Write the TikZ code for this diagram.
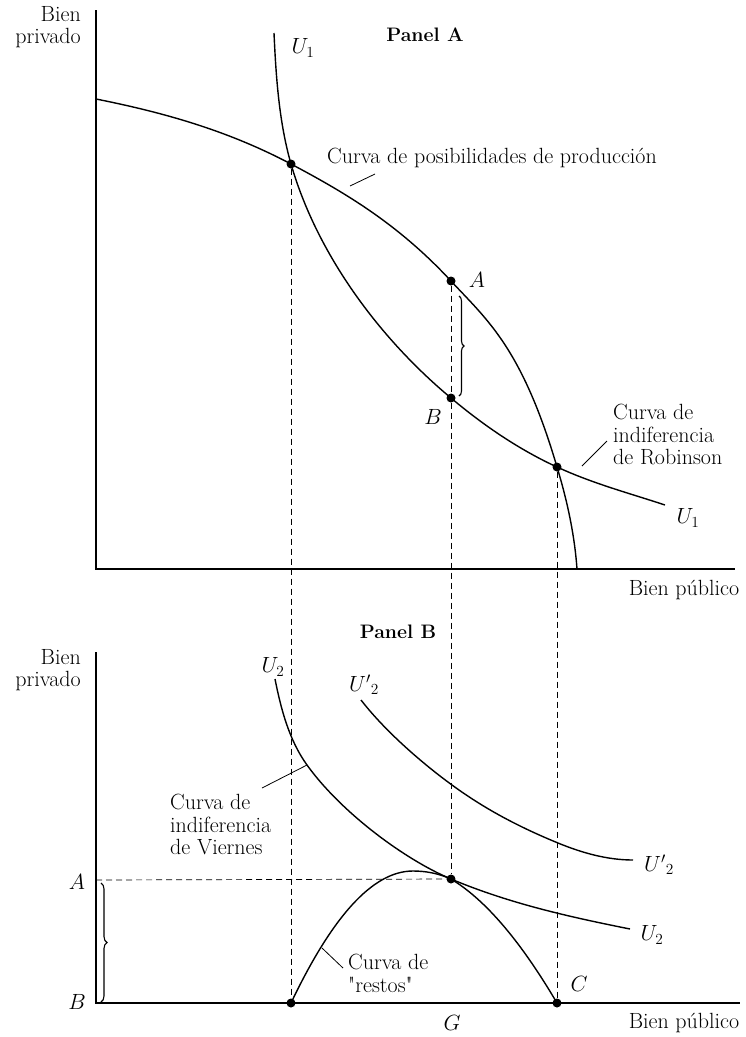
\RequirePackage{fix-cm}
\documentclass[tikz,border=0pt]{standalone}
\usepackage{fontspec}
\setmainfont{Latin Modern Roman}
\usetikzlibrary{decorations.pathreplacing}
\newcommand{\straightquote}{\XeTeXglyph\XeTeXcharglyph"22\relax}
\begin{document}
\begin{tikzpicture}[x=1pt,y=-1pt,
  every node/.style={font=\fontsize{22}{22.5}\selectfont, inner sep=0pt},
  paneltitle/.style={font=\fontsize{19.5}{22}\selectfont\bfseries},
  axisline/.style={line width=1.5pt},
  curveline/.style={line width=1.4pt},
  dashline/.style={line width=0.7pt, dash pattern=on 6pt off 4pt},
  leader/.style={line width=0.8pt},
  dot/.style={circle, fill=black, inner sep=0pt, minimum size=9pt},
  bracestyle/.style={line width=1.1pt, decorate}
]
\useasboundingbox (0,0) rectangle (746,1037);

% ---------- Panel A ----------
\coordinate (aTop) at (96,10);
\coordinate (aO) at (96,569);
\coordinate (aX) at (735,569);
\draw[axisline] (aTop) -- (aO) -- (aX);
\node[anchor=north east, align=right] (ylabA) at (81,6) {Bien\\privado};
\node[paneltitle] (panA) at (425,35) {Panel A};
\node (xlabA) at (684,590) {Bien p\'ublico};

% production possibilities curve
\draw[curveline] (96,99) .. controls (161,112) and (226,129.6) .. (291,164)
  .. controls (344.3,192.3) and (397.7,223.4) .. (451,281)
  .. controls (486.3,319.2) and (521.7,347) .. (557,467)
  .. controls (567,500) and (574.5,534) .. (577,569);
% Robinson indifference curve
\draw[curveline] (274,33) .. controls (276,77) and (279,122) .. (291,164)
  .. controls (317,254) and (379,338) .. (451,398)
  .. controls (486.3,427.7) and (521.7,450.8) .. (557,467)
  .. controls (593,483.6) and (629,493.1) .. (665,505);

\node (u1top) at (303,48) {$U_1$};
\node (u1bot) at (688,518) {$U_1$};

% ---------- Panel B ----------
\coordinate (bTop) at (96,652);
\coordinate (bO) at (96,1003);
\coordinate (bX) at (740,1003);
\draw[axisline] (bTop) -- (bO) -- (bX);
\node[anchor=north east, align=right] (ylabB) at (81,649) {Bien\\privado};
\node[paneltitle] (panB) at (398,632) {Panel B};
\node (xlabB) at (684,1023) {Bien p\'ublico};

% Friday indifference curves
\draw[curveline] (275,679) .. controls (281,709) and (289,740) .. (307,765)
  .. controls (340,811) and (403,858.8) .. (451,879)
  .. controls (510.7,904) and (570.3,917) .. (630,929);
\draw[curveline] (361,700) .. controls (385,731) and (421.7,762.9) .. (452,785)
  .. controls (487.3,810.8) and (522.7,828.5) .. (558,843)
  .. controls (583,853.3) and (608,860) .. (633,860);
% leftovers curve
\draw[curveline] (291,1003) .. controls (331.7,917.6) and (372.3,871) .. (413,871)
  .. controls (425.7,871) and (438.3,873.3) .. (451,879)
  .. controls (486.3,900.2) and (521.7,943) .. (557,1003);

\node (u2) at (273,667) {$U_2$};
\node (u2p) at (364,685) {$U'{}_2$};
\node (u2r) at (652,935) {$U_2$};
\node (u2pr) at (659,865) {$U'{}_2$};

% ---------- points ----------
\node[dot] (p1) at (291,164) {};
\node[dot] (pA) at (451,281) {};
\node[dot] (pB) at (451,398) {};
\node[dot] (pR) at (557,467) {};
\node[dot] (pT) at (451,879) {};
\node[dot] (pL) at (291,1003) {};
\node[dot] (pC) at (557,1003) {};

\node (lA) at (477,280) {$A$};
\node (lB) at (433,417) {$B$};
\node (lC) at (579,984) {$C$};
\node (lG) at (452,1023) {$G$};
\node (lA2) at (77,882) {$A$};
\node (lB2) at (77,1002) {$B$};

% ---------- dashed guides ----------
\draw[dashline] (p1) -- (pL);
\draw[dashline] (pA) -- (pB);
\draw[dashline] (pB) -- (pT);
\draw[dashline] (pR) -- (pC);
\coordinate (hA) at (96,880);
\draw[dashline] (hA) -- (pT);

% ---------- braces ----------
\coordinate (brAt) at (459,296);
\coordinate (brAb) at (459,396);
\draw[bracestyle, decoration={brace, amplitude=5pt}] (brAt) -- (brAb);
\coordinate (brBt) at (101,883);
\coordinate (brBb) at (101,1002);
\draw[bracestyle, decoration={brace, amplitude=6pt}] (brBt) -- (brBb);

% ---------- labels with leaders ----------
\node[anchor=west] (ppf) at (327,158) {Curva de posibilidades de producci\'on};
\coordinate (ppfa) at (350,186);
\coordinate (ppfb) at (375,174);
\draw[leader] (ppfa) -- (ppfb);

\node[anchor=north west, align=left] (rob) at (613,404) {Curva de\\indiferencia\\de Robinson};
\coordinate (roba) at (582,466);
\coordinate (robb) at (607,441);
\draw[leader] (roba) -- (robb);

\node[anchor=north west, align=left] (vie) at (170,794) {Curva de\\indiferencia\\de Viernes};
\coordinate (viea) at (262,788);
\coordinate (vieb) at (307,765);
\draw[leader] (viea) -- (vieb);

\node[anchor=north west, align=left] (res) at (348,954) {Curva de\\\straightquote restos\straightquote};
\coordinate (resa) at (343,968);
\coordinate (resb) at (322,948);
\draw[leader] (resa) -- (resb);
\end{tikzpicture}
\end{document}
